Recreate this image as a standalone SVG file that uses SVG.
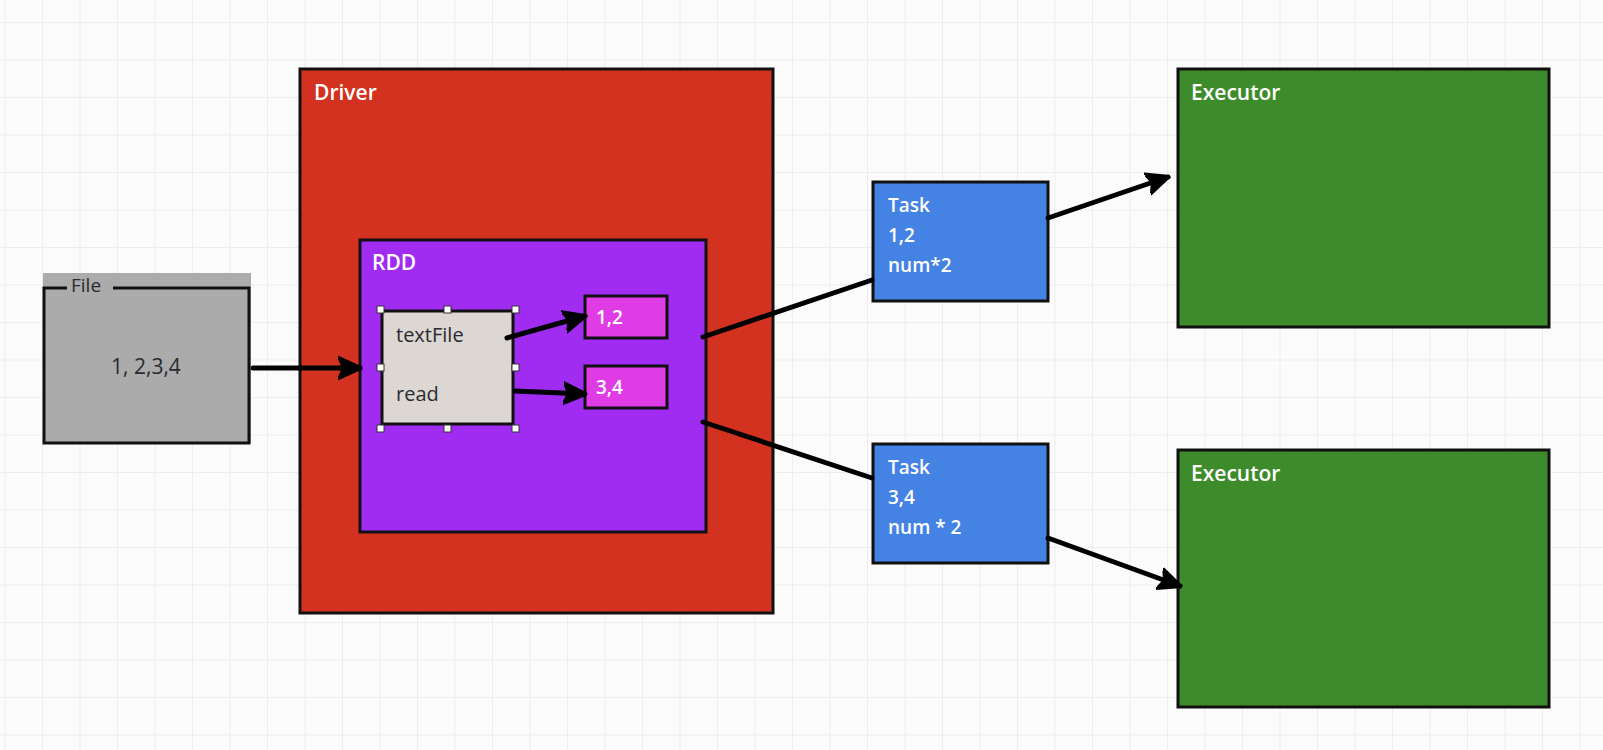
<svg xmlns="http://www.w3.org/2000/svg" width="1603" height="750" viewBox="0 0 1603 750">
<style>
.box{stroke:#111;stroke-width:3}
.lbl{font-family:"Open Sans","Liberation Sans",sans-serif;font-weight:600;fill:#fff}
.dark{font-family:"Open Sans","Liberation Sans",sans-serif;fill:#2a2a30}
.conn{stroke:#000;stroke-width:5;fill:none;stroke-linecap:round}
.handle{fill:#fff;stroke:#333;stroke-width:1}
</style>
<defs>
<pattern id="grid" x="4.5" y="22" width="37.5" height="37.5" patternUnits="userSpaceOnUse">
<path d="M0,0 H37.5 M0,0 V37.5" stroke="#ededed" stroke-width="2" fill="none"/>
</pattern>
<marker id="arr" viewBox="0 0 10 10" markerUnits="userSpaceOnUse" markerWidth="24" markerHeight="26" refX="9" refY="5" orient="auto">
<path d="M0,0.5 L10,5 L0,9.5 L2,5 z" fill="#000" stroke="#000" stroke-width="1" stroke-linejoin="round"/>
</marker>
</defs>
<rect width="1603" height="750" fill="#fbfbfb"/>
<rect width="1603" height="750" fill="url(#grid)"/>

<g id="file">
<rect x="43" y="273" width="208" height="170" fill="#ababab"/>
<path d="M67,288 H44 V443 H249 V288 H113" fill="none" stroke="#111" stroke-width="3"/>
<text x="71" y="292" class="dark" font-size="19">File</text>
<text x="146" y="374" class="dark" font-size="21" text-anchor="middle">1, 2,3,4</text>
</g>

<g id="driver">
<rect x="300" y="69" width="473" height="544" fill="#d2321f" class="box"/>
<text x="314" y="100" class="lbl" font-size="21">Driver</text>
</g>

<g id="rdd">
<rect x="360" y="240" width="346" height="292" fill="#a02cf2" class="box"/>
<text x="372" y="270" class="lbl" font-size="21">RDD</text>
</g>

<g id="textfile">
<rect x="382" y="311" width="131" height="113" fill="#dcd7d3" class="box"/>
<text x="396" y="342" class="dark" font-size="20">textFile</text>
<text x="396" y="401" class="dark" font-size="20">read</text>
<rect x="377" y="306" width="7" height="7" class="handle"/>
<rect x="444" y="306" width="7" height="7" class="handle"/>
<rect x="512" y="306" width="7" height="7" class="handle"/>
<rect x="377" y="364" width="7" height="7" class="handle"/>
<rect x="512" y="364" width="7" height="7" class="handle"/>
<rect x="377" y="425" width="7" height="7" class="handle"/>
<rect x="444" y="425" width="7" height="7" class="handle"/>
<rect x="512" y="425" width="7" height="7" class="handle"/>
</g>

<g id="part12">
<rect x="585" y="296" width="82" height="42" fill="#e03ce6" class="box"/>
<text x="596" y="324" class="lbl" font-size="19">1,2</text>
</g>

<g id="part34">
<rect x="585" y="366" width="82" height="42" fill="#e03ce6" class="box"/>
<text x="596" y="394" class="lbl" font-size="19">3,4</text>
</g>

<g id="task1">
<rect x="873" y="182" width="175" height="119" fill="#4482e4" class="box"/>
<text x="888" y="212" class="lbl" font-size="19">Task</text>
<text x="888" y="242" class="lbl" font-size="19">1,2</text>
<text x="888" y="272" class="lbl" font-size="19">num*2</text>
</g>

<g id="task2">
<rect x="873" y="444" width="175" height="119" fill="#4482e4" class="box"/>
<text x="888" y="474" class="lbl" font-size="19">Task</text>
<text x="888" y="504" class="lbl" font-size="19">3,4</text>
<text x="888" y="534" class="lbl" font-size="19">num * 2</text>
</g>

<g id="executor1">
<rect x="1178" y="69" width="371" height="258" fill="#3e8b2b" class="box"/>
<text x="1191" y="100" class="lbl" font-size="21">Executor</text>
</g>

<g id="executor2">
<rect x="1178" y="450" width="371" height="257" fill="#3e8b2b" class="box"/>
<text x="1191" y="481" class="lbl" font-size="21">Executor</text>
</g>

<g id="connectors">
<line x1="253" y1="368" x2="360" y2="368" class="conn" marker-end="url(#arr)"/>
<line x1="507" y1="338" x2="585" y2="316" class="conn" marker-end="url(#arr)"/>
<line x1="515" y1="391" x2="585" y2="394" class="conn" marker-end="url(#arr)"/>
<line x1="703" y1="337" x2="872" y2="280" class="conn"/>
<line x1="703" y1="422" x2="872" y2="478" class="conn"/>
<line x1="1048" y1="218" x2="1168" y2="177" class="conn" marker-end="url(#arr)"/>
<line x1="1048" y1="538" x2="1180" y2="586" class="conn" marker-end="url(#arr)"/>
</g>
</svg>
